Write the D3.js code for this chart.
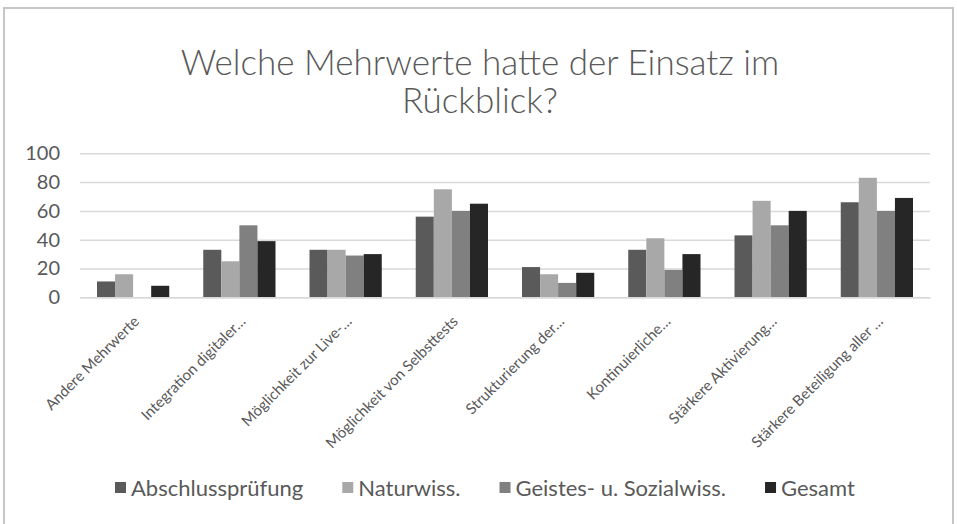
<!DOCTYPE html>
<html>
<head>
<meta charset="utf-8">
<script src="https://cdn.jsdelivr.net/npm/d3@7"></script>
<style>
  body { margin: 0; background: #fff; }
  svg text { font-family: Lato, "Open Sans", sans-serif; fill: #595959; }
</style>
</head>
<body>
<script>
// data
const categories = ['Andere Mehrwerte', 'Integration digitaler…', 'Möglichkeit zur Live-…', 'Möglichkeit von Selbsttests',
  'Strukturierung der…', 'Kontinuierliche…', 'Stärkere Aktivierung…', 'Stärkere Beteiligung aller …']
const seriesNames = ['Abschlussprüfung', 'Naturwiss.', 'Geistes- u. Sozialwiss.', 'Gesamt']
const abschluss = [11, 33, 33, 56, 21, 33, 43, 66]
const naturwiss = [16, 25, 33, 75, 16, 41, 67, 83]
const geistes   = [0, 50, 29, 60, 10, 19, 50, 60]
const gesamt    = [8, 39, 30, 65, 17, 30, 60, 69]
const yTicks = [0, 20, 40, 60, 80, 100]
const colors = ['#5a5a5a', '#a8a8a8', '#808080', '#262626']

const values = [abschluss, naturwiss, geistes, gesamt]

let size = { width: 957, height: 524, left: 80, right: 930, top: 153.3, bottom: 297.3 }

let svg = d3.select('body').append('svg')
  .attr('width', size.width)
  .attr('height', size.height)

// chart frame
svg.append('rect')
  .attr('x', 4).attr('y', 8)
  .attr('width', 949).attr('height', 540)
  .attr('fill', 'none')
  .attr('stroke', '#c6c6c6')
  .attr('stroke-width', 2)

// title
let title = svg.append('text')
  .attr('text-anchor', 'middle')
  .attr('font-size', 35)
  .attr('font-weight', 300)
title.append('tspan').attr('x', 480).attr('y', 75).text('Welche Mehrwerte hatte der Einsatz im')
title.append('tspan').attr('x', 480).attr('y', 113).text('Rückblick?')

//scales
let x0 = d3.scaleBand()
  .domain(categories)
  .range([size.left, size.right])
  .paddingInner(0.32)
  .paddingOuter(0.16)
let x1 = d3.scaleBand()
  .domain(seriesNames)
  .range([0, x0.bandwidth()])
let y = d3.scaleLinear()
  .domain([0, 100])
  .range([size.bottom, size.top])

// gridlines
svg.append('g')
  .attr('transform', `translate(${size.left},0)`)
  .call(d3.axisLeft(y).tickValues(yTicks).tickSize(-(size.right - size.left)).tickFormat(''))
  .call(g => g.select('.domain').remove())
  .call(g => g.selectAll('line').attr('stroke', '#d9d9d9').attr('stroke-width', 1.5))

// y labels
svg.append('g')
  .attr('transform', 'translate(60,0)')
  .call(d3.axisLeft(y).tickValues(yTicks).tickSize(0).tickPadding(0))
  .call(g => g.select('.domain').remove())
  .call(g => g.selectAll('text').attr('font-size', 20).attr('fill', '#595959').style('font-family', 'Lato'))

// bars
let groups = svg.append('g').selectAll('g')
  .data(categories)
  .join('g')
  .attr('transform', d => `translate(${x0(d)},0)`)
groups.selectAll('rect')
  .data((d, i) => seriesNames.map((s, j) => ({ s: s, v: values[j][i], c: colors[j] })))
  .join('rect')
  .attr('x', d => x1(d.s))
  .attr('y', d => y(d.v))
  .attr('width', x1.bandwidth())
  .attr('height', d => y(0) - y(d.v))
  .attr('fill', d => d.c)

// x labels, rotated
svg.append('g')
  .attr('transform', `translate(0,${size.bottom})`)
  .call(d3.axisBottom(x0).tickSize(0).tickPadding(0))
  .call(g => g.select('.domain').attr('stroke', '#d9d9d9').attr('stroke-width', 1.5))
  .call(g => g.selectAll('text')
    .attr('font-size', 15)
    .attr('fill', '#595959')
    .style('font-family', 'Lato')
    .attr('text-anchor', 'end')
    .attr('dy', null)
    .attr('transform', 'translate(7,25) rotate(-45)'))

// legend
let legend = svg.append('g').attr('id', 'legend')
let lx = 115
seriesNames.forEach((s, i) => {
  let item = legend.append('g').attr('transform', `translate(${lx},488)`)
  item.append('rect').attr('x', 0).attr('y', -6).attr('width', 11).attr('height', 11).attr('fill', colors[i])
  let t = item.append('text').attr('x', 16).attr('y', 0).attr('dy', '0.35em')
    .attr('font-size', 22).text(s)
  lx += 16 + t.node().getComputedTextLength() + 39
})
</script>
</body>
</html>
